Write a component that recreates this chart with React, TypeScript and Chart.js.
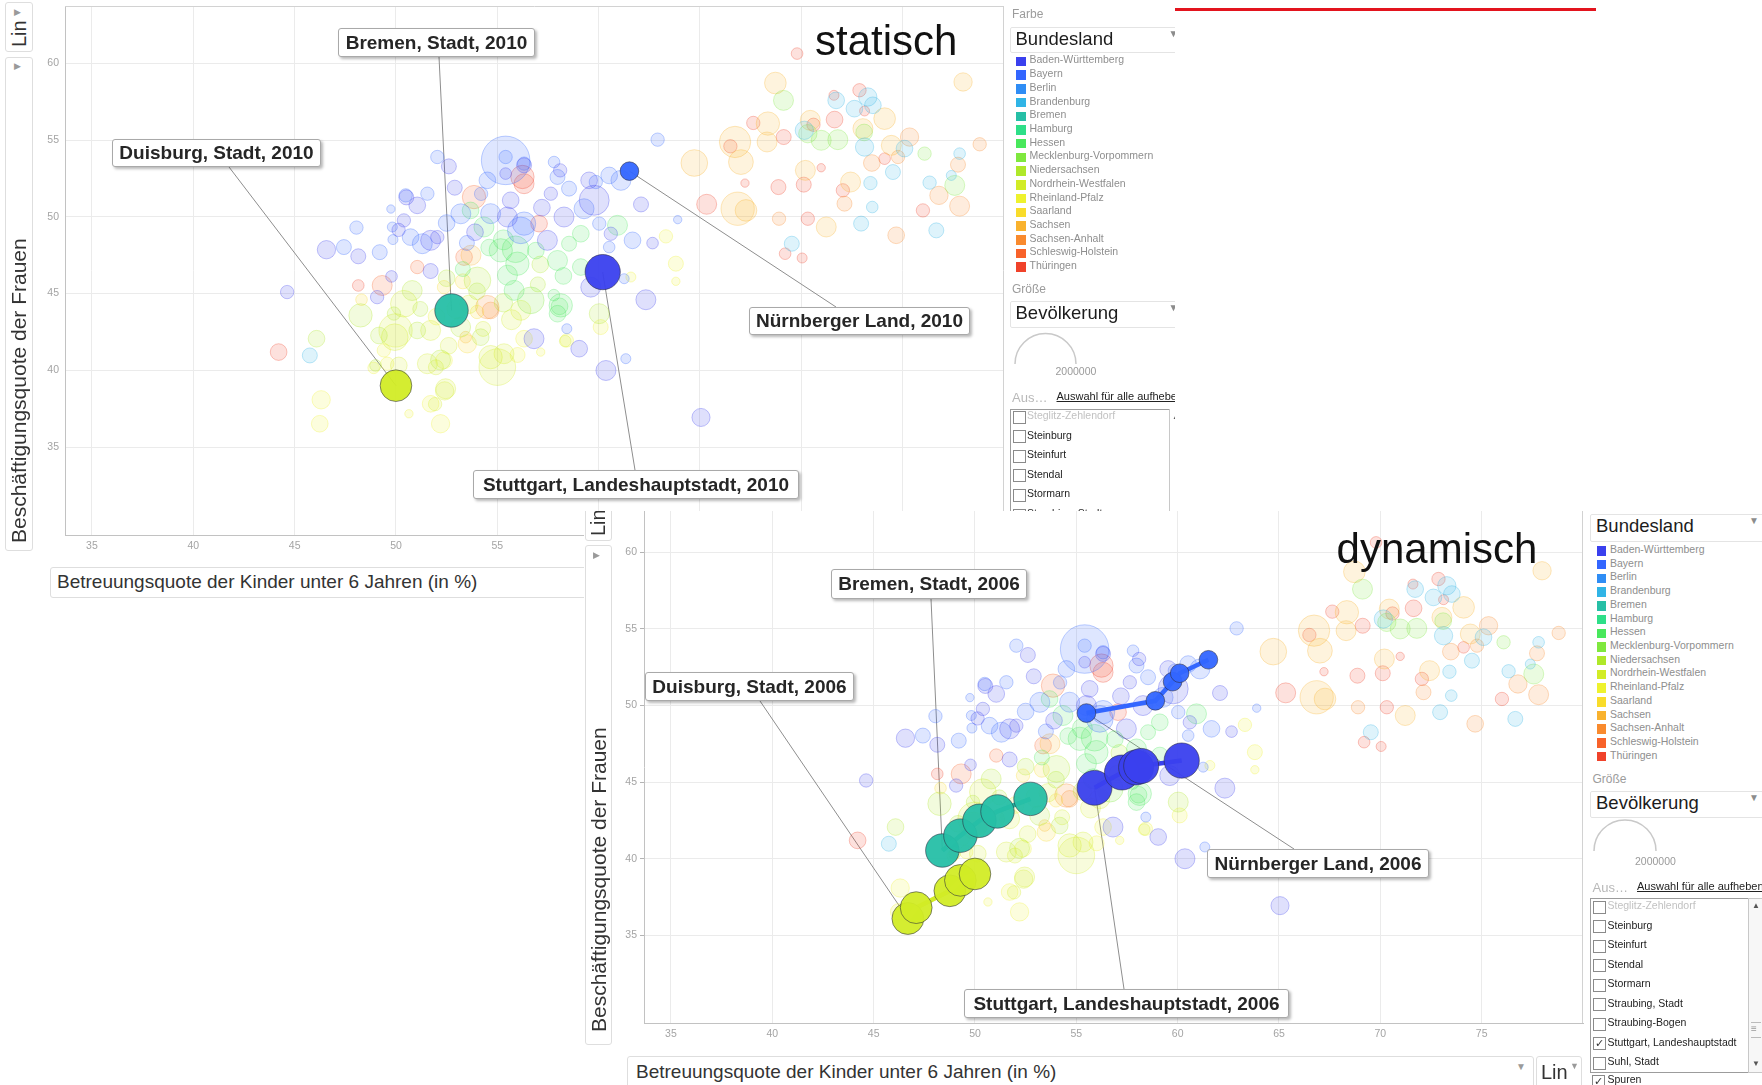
import React, { useEffect, useRef } from 'react';
import { Chart, registerables } from 'chart.js';

Chart.register(...registerables);

const FONT = '"Liberation Sans", Arial, Helvetica, sans-serif';
Chart.defaults.font.family = FONT;

// ---------- axes ----------
const xMin = 33.67;
const xMax = 80.0;
const yMin = 29.27;
const yMaxOben = 63.74;
const yMaxUnten = 62.69;
const xTicks = [35, 40, 45, 50, 55, 60, 65, 70, 75];
const yTicks = [35, 40, 45, 50, 55, 60];
const titelX = 'Betreuungsquote der Kinder unter 6 Jahren (in %)';
const titelY = 'Beschäftigungsquote der Frauen';

const bundeslaender = [
  'Baden-Württemberg', 'Bayern', 'Berlin', 'Brandenburg', 'Bremen', 'Hamburg', 'Hessen',
  'Mecklenburg-Vorpommern', 'Niedersachsen', 'Nordrhein-Westfalen', 'Rheinland-Pfalz',
  'Saarland', 'Sachsen', 'Sachsen-Anhalt', 'Schleswig-Holstein', 'Thüringen',
];
const landFarben = [
  '#3a40ee', '#3366ff', '#2f8df5', '#30b4e6', '#26bfa6', '#2edf88', '#48e85c',
  '#7fe83e', '#afe82a', '#d2ec26', '#eef22e', '#f9dc2a', '#f9b22e', '#f98a2e',
  '#f8622a', '#f0422a',
];

// ---------- background districts: [Betreuungsquote, Beschäftigungsquote, Bevölkerung (Tsd.)] ----------
const kreiseBW = [
  [44.63, 45.10, 87], [46.57, 47.86, 164], [48.14, 47.43, 110], [49.07, 44.77, 87],
  [49.78, 46.12, 66], [51.05, 50.75, 136], [51.71, 48.47, 195], [50.39, 49.77, 87],
  [52.04, 48.68, 87], [51.71, 46.47, 110], [52.61, 53.29, 110], [53.90, 49.00, 136],
  [52.90, 51.90, 110], [55.41, 52.82, 66], [55.66, 51.08, 136], [55.50, 49.99, 195],
  [56.32, 53.36, 110], [58.10, 53.03, 87], [57.64, 51.51, 87], [59.53, 52.38, 136],
  [59.78, 51.08, 439], [62.09, 50.81, 110], [62.66, 48.29, 66], [60.60, 48.90, 87],
  [62.33, 44.60, 195], [59.61, 45.42, 195], [59.04, 41.41, 136], [56.81, 42.06, 195],
  [60.36, 39.99, 195], [65.05, 36.93, 160], [58.29, 49.99, 195], [57.20, 50.60, 136],
  [57.47, 48.47, 195], [50.13, 49.15, 87], [50.51, 51.27, 110],
];
const kreiseBayern = [
  [47.43, 48.03, 110], [48.05, 49.30, 87], [49.20, 47.70, 110], [49.82, 49.34, 49],
  [50.48, 51.40, 87], [51.55, 51.51, 87], [52.04, 53.90, 87], [50.72, 48.68, 136],
  [51.30, 48.25, 195], [54.51, 52.38, 136], [55.41, 53.68, 1150], [55.41, 53.90, 87],
  [56.16, 49.12, 347], [56.32, 53.47, 87], [57.80, 53.57, 66], [57.97, 52.60, 110],
  [58.54, 51.84, 110], [59.86, 52.27, 87], [60.52, 52.70, 136], [61.10, 52.38, 195],
  [62.91, 55.03, 87], [63.90, 49.82, 34], [61.67, 48.47, 136], [60.52, 48.03, 66],
  [59.28, 50.53, 195], [60.03, 49.56, 87], [61.26, 45.97, 49], [58.43, 42.71, 49],
  [61.34, 40.76, 49], [56.32, 49.56, 266], [54.67, 50.21, 195], [53.20, 50.20, 195],
  [54.20, 51.50, 87], [53.50, 48.30, 110], [49.75, 50.51, 34], [49.85, 48.52, 49],
  [52.50, 49.60, 136],
];
const kreiseBrandenburg = [
  [45.75, 40.97, 110], [71.72, 57.59, 136], [73.28, 57.81, 164], [73.53, 57.27, 136],
  [72.62, 57.05, 136], [70.15, 55.64, 164], [73.12, 54.55, 164], [74.52, 52.92, 110],
  [75.09, 54.45, 136], [77.81, 54.12, 66], [77.40, 52.70, 49], [76.33, 52.23, 87],
  [73.50, 50.64, 66], [73.41, 52.20, 87], [72.95, 49.56, 110], [76.66, 49.12, 110],
  [69.53, 48.25, 110],
];
const kreiseHessen = [
  [55.17, 47.82, 266], [54.34, 49.34, 195], [53.68, 50.42, 136], [55.99, 46.95, 266],
  [55.83, 45.21, 195], [58.13, 44.23, 266], [57.97, 43.69, 136], [59.12, 46.73, 136],
  [59.12, 48.90, 136], [57.97, 47.16, 195], [55.90, 47.89, 347], [53.30, 46.60, 110],
  [60.93, 49.45, 195], [58.26, 46.15, 136], [58.07, 44.17, 136], [58.54, 48.25, 110],
  [55.30, 48.50, 195], [54.60, 48.00, 136], [57.79, 44.90, 66], [55.50, 46.20, 195],
  [56.90, 47.80, 136],
];
const kreiseMV = [
  [56.65, 44.56, 347], [69.12, 57.59, 195], [70.98, 54.99, 195], [71.80, 55.03, 195],
  [70.32, 55.42, 164], [76.08, 54.12, 87], [77.57, 52.05, 195], [73.10, 55.50, 136],
];
const kreiseNiedersachsen = [
  [46.08, 42.06, 136], [48.25, 43.58, 266], [49.16, 42.27, 136], [50.80, 45.20, 195],
  [53.19, 42.82, 195], [54.02, 45.86, 347], [51.05, 42.60, 136], [52.20, 40.67, 195],
  [60.03, 43.69, 195], [54.00, 45.15, 136], [57.12, 46.90, 136], [51.20, 44.00, 110],
  [52.50, 46.00, 136], [49.90, 43.70, 87], [57.00, 45.60, 110], [48.99, 40.32, 66],
  [54.18, 42.16, 136], [55.30, 44.40, 164],
];
const kreiseNRW = [
  [49.98, 42.60, 542], [50.39, 44.34, 347], [55.00, 40.21, 656], [54.67, 40.86, 266],
  [51.55, 40.43, 195], [50.14, 40.32, 136], [52.40, 38.66, 164], [51.93, 37.80, 87],
  [52.45, 38.80, 195], [56.16, 43.91, 195], [53.60, 44.30, 164], [55.70, 43.30, 195],
  [54.30, 42.70, 110], [52.60, 41.60, 136], [51.97, 40.20, 110], [58.35, 41.90, 66],
  [49.94, 42.16, 347], [51.71, 42.60, 195], [55.33, 41.08, 195], [53.00, 44.00, 195],
];
const kreiseRLP = [
  [46.31, 38.08, 164], [46.24, 36.52, 136], [51.71, 37.82, 136], [52.20, 36.52, 164],
  [50.64, 37.17, 34], [48.90, 40.16, 66], [49.40, 41.30, 87], [58.43, 41.95, 87],
  [60.10, 42.82, 110], [63.32, 48.73, 87], [63.81, 46.95, 110], [63.81, 45.80, 34],
  [61.59, 46.08, 49], [56.32, 42.06, 136], [57.14, 41.19, 34], [52.37, 40.65, 136],
  [49.57, 40.43, 87], [52.00, 43.50, 136], [56.00, 41.00, 110],
];
const kreiseSaarland = [
  [53.52, 41.73, 164], [53.30, 45.80, 110], [54.00, 43.80, 87], [48.30, 44.60, 66],
  [52.37, 45.42, 87],
];
const kreiseSachsen = [
  [68.72, 58.72, 229], [77.98, 58.79, 164], [74.11, 56.40, 229], [70.44, 56.29, 195],
  [73.04, 55.75, 195], [74.44, 54.66, 195], [66.86, 50.53, 542], [66.73, 54.88, 480],
  [67.02, 53.57, 300], [68.35, 56.08, 266], [64.72, 53.51, 347], [70.20, 53.03, 195],
  [72.43, 52.27, 195], [71.23, 49.34, 195], [67.27, 50.42, 229], [68.31, 54.88, 195],
  [53.70, 47.50, 195], [53.44, 42.16, 66],
];
const kreiseSachsenAnhalt = [
  [76.79, 51.40, 164], [77.81, 50.70, 195], [74.68, 48.80, 136], [73.48, 53.51, 136],
  [78.80, 54.73, 87], [77.73, 53.40, 110], [72.13, 50.86, 110], [75.34, 55.20, 164],
  [74.77, 53.90, 87], [68.90, 49.88, 87], [54.51, 44.12, 266], [54.67, 43.90, 136],
];
const kreiseSH = [
  [49.32, 45.53, 195], [53.36, 47.38, 136], [51.05, 46.73, 87], [53.85, 51.29, 266],
];
const kreiseThueringen = [
  [44.21, 41.19, 136], [48.14, 45.53, 66], [56.32, 52.16, 195], [56.24, 52.60, 266],
  [57.06, 49.56, 136], [69.79, 60.64, 66], [72.87, 58.25, 87], [71.64, 56.34, 136],
  [71.61, 57.92, 49], [70.60, 56.00, 87], [74.11, 53.79, 66], [76.00, 50.42, 87],
  [72.05, 51.73, 87], [70.32, 49.88, 87], [70.98, 53.20, 34], [70.12, 52.10, 110],
  [68.87, 51.94, 110], [69.20, 47.60, 66], [70.04, 47.32, 49], [67.22, 52.20, 34],
  [66.50, 54.60, 87], [69.13, 55.20, 110], [67.63, 56.12, 87], [65.33, 50.82, 195],
  [73.12, 56.90, 49],
];

const hintergrund: [number, number[][]][] = [
  [0, kreiseBW], [1, kreiseBayern], [3, kreiseBrandenburg], [6, kreiseHessen], [7, kreiseMV],
  [8, kreiseNiedersachsen], [9, kreiseNRW], [10, kreiseRLP], [11, kreiseSaarland],
  [12, kreiseSachsen], [13, kreiseSachsenAnhalt], [14, kreiseSH], [15, kreiseThueringen],
];

// ---------- highlighted districts 2006–2010 ----------
const jahre = [2006, 2007, 2008, 2009, 2010];
const duisburgX = [46.69, 47.10, 48.76, 49.28, 50.00];
const duisburgY = [36.09, 36.80, 37.90, 38.58, 39.00];
const duisburgBev = [496, 494, 492, 491, 489];
const bremenX = [48.39, 49.28, 50.22, 51.11, 52.74];
const bremenY = [40.53, 41.50, 42.47, 43.08, 43.90];
const bremenBev = [548, 548, 547, 547, 547];
const stuttgartX = [55.90, 57.25, 57.95, 58.20, 60.20];
const stuttgartY = [44.62, 45.62, 45.95, 46.05, 46.40];
const stuttgartBev = [594, 597, 600, 601, 606];
const nuernbergX = [55.50, 58.90, 59.75, 60.10, 61.52];
const nuernbergY = [49.50, 50.30, 51.55, 52.10, 52.98];
const nuernbergBev = [171, 170, 170, 169, 169];

const staedte = [
  { name: 'Duisburg, Stadt', land: 9, x: duisburgX, y: duisburgY, bev: duisburgBev },
  { name: 'Bremen, Stadt', land: 4, x: bremenX, y: bremenY, bev: bremenBev },
  { name: 'Stuttgart, Landeshauptstadt', land: 0, x: stuttgartX, y: stuttgartY, bev: stuttgartBev },
  { name: 'Nürnberger Land', land: 1, x: nuernbergX, y: nuernbergY, bev: nuernbergBev },
];

const kreisListeOben = ['Steglitz-Zehlendorf', 'Steinburg', 'Steinfurt', 'Stendal', 'Stormarn', 'Straubing, Stadt'];
const kreisListeUnten = [
  'Steglitz-Zehlendorf', 'Steinburg', 'Steinfurt', 'Stendal', 'Stormarn', 'Straubing, Stadt',
  'Straubing-Bogen', 'Stuttgart, Landeshauptstadt', 'Suhl, Stadt',
];

// ---------- layout of callouts (page coordinates) ----------
type Callout = { stadt: number; box: number[]; anchor: number[] };
const calloutsOben: Callout[] = [
  { stadt: 1, box: [338, 28, 197, 29], anchor: [439, 57] },
  { stadt: 0, box: [112, 139, 209, 28], anchor: [229, 167] },
  { stadt: 3, box: [749, 307, 221, 28], anchor: [836, 307] },
  { stadt: 2, box: [473, 470, 326, 29], anchor: [635, 470] },
];
const calloutsUnten: Callout[] = [
  { stadt: 1, box: [831, 569, 196, 30], anchor: [931, 599] },
  { stadt: 0, box: [645, 672, 209, 29], anchor: [760, 701] },
  { stadt: 3, box: [1207, 849, 222, 29], anchor: [1294, 849] },
  { stadt: 2, box: [964, 989, 325, 29], anchor: [1124, 989] },
];

function rgba(hex: string, a: number) {
  const n = parseInt(hex.slice(1), 16);
  return `rgba(${(n >> 16) & 255},${(n >> 8) & 255},${n & 255},${a})`;
}
const radius = (bevK: number) => 32 * Math.sqrt(bevK / 2000);

type ChartProps = {
  ox: number; oy: number; left: number; top: number; width: number; height: number;
  yAxisWidth: number; xAxisHeight: number; padTop: number; padRight: number; yMax: number;
  dynamic: boolean; callouts: Callout[]; jahrIdx: number; topBorder: boolean; yTickLen: number;
};

const noPad = (s: any) => {
  s.paddingTop = 0;
  s.paddingBottom = 0;
  s.paddingLeft = 0;
  s.paddingRight = 0;
};

function BubbleChart(p: ChartProps) {
  const ref = useRef<HTMLCanvasElement>(null);
  useEffect(() => {
    const canvas = ref.current;
    if (!canvas) return;
    const datasets: any[] = [];
    hintergrund.forEach(([land, punkte]) => {
      const c = landFarben[land];
      datasets.push({
        type: 'bubble',
        label: bundeslaender[land],
        data: punkte.map(([x, y, b]) => ({ x, y, r: radius(b) })),
        backgroundColor: rgba(c, 0.16),
        borderColor: rgba(c, 0.3),
        borderWidth: 1,
        order: 3,
      });
    });
    staedte.forEach((s) => {
      const c = landFarben[s.land];
      const idx = p.dynamic ? s.x.map((_, i) => i) : [p.jahrIdx];
      if (p.dynamic) {
        datasets.push({
          type: 'line',
          label: s.name + ' Spur',
          data: idx.map((i) => ({ x: s.x[i], y: s.y[i] })),
          borderColor: c,
          borderWidth: 4.5,
          pointRadius: 0,
          fill: false,
          tension: 0,
          order: 1,
        });
      }
      datasets.push({
        type: 'bubble',
        label: s.name,
        data: idx.map((i) => ({ x: s.x[i], y: s.y[i], r: radius(s.bev[i]) })),
        backgroundColor: rgba(c, 0.95),
        borderColor: 'rgba(40,40,60,0.55)',
        borderWidth: 1,
        order: 0,
      });
    });

    const overlay = {
      id: 'overlay',
      beforeDatasetsDraw(chart: any) {
        const { ctx, chartArea: a, scales } = chart;
        ctx.save();
        ctx.strokeStyle = '#d2d2d2';
        ctx.lineWidth = 1;
        ctx.beginPath();
        ctx.moveTo(Math.round(a.right) - 0.5, a.top);
        ctx.lineTo(Math.round(a.right) - 0.5, a.bottom);
        if (p.topBorder) {
          ctx.moveTo(a.left, Math.round(a.top) + 0.5);
          ctx.lineTo(a.right, Math.round(a.top) + 0.5);
        }
        ctx.stroke();
        ctx.strokeStyle = '#8e8e8e';
        p.callouts.forEach((c) => {
          const s = staedte[c.stadt];
          const px = scales.x.getPixelForValue(s.x[p.jahrIdx]);
          const py = scales.y.getPixelForValue(s.y[p.jahrIdx]);
          ctx.beginPath();
          ctx.moveTo(c.anchor[0] - p.ox, c.anchor[1] - p.oy);
          ctx.lineTo(px, py);
          ctx.stroke();
        });
        ctx.restore();
      },
    };

    const tickFont = { family: FONT, size: 10.5 };
    const chart = new Chart(canvas, {
      type: 'bubble',
      data: { datasets },
      options: {
        responsive: false,
        maintainAspectRatio: false,
        animation: false,
        devicePixelRatio: 1,
        events: [],
        layout: { autoPadding: false, padding: { left: 0, right: p.padRight, top: p.padTop, bottom: 0 } },
        plugins: { legend: { display: false }, tooltip: { enabled: false } },
        scales: {
          x: {
            type: 'linear',
            position: 'bottom',
            min: xMin,
            max: xMax,
            afterBuildTicks: (s: any) => { s.ticks = xTicks.map((v) => ({ value: v })); },
            afterFit: (s: any) => { s.height = p.xAxisHeight; noPad(s); },
            grid: { color: '#ebebeb', lineWidth: 1, drawTicks: false },
            border: { display: true, color: '#c2c2c2', width: 1 },
            ticks: { color: '#a4a4a4', font: tickFont, padding: 5, autoSkip: false, maxRotation: 0 },
          },
          y: {
            type: 'linear',
            position: 'left',
            min: yMin,
            max: p.yMax,
            afterBuildTicks: (s: any) => { s.ticks = yTicks.map((v) => ({ value: v })); },
            afterFit: (s: any) => { s.width = p.yAxisWidth; noPad(s); },
            grid: {
              color: '#ebebeb', lineWidth: 1, drawTicks: p.yTickLen > 0,
              tickLength: p.yTickLen, tickColor: '#b4b4b4',
            },
            border: { display: true, color: '#c2c2c2', width: 1 },
            ticks: { color: '#a4a4a4', font: tickFont, padding: p.yTickLen > 0 ? 3 : 6, autoSkip: false },
          },
        },
      } as any,
      plugins: [overlay],
    } as any);
    return () => chart.destroy();
  }, []);
  return (
    <canvas
      ref={ref}
      width={p.width}
      height={p.height}
      style={{ position: 'absolute', left: p.left, top: p.top, width: p.width, height: p.height }}
    />
  );
}

function LabelBox({ c, ox, oy, jahrIdx }: { c: Callout; ox: number; oy: number; jahrIdx: number }) {
  const [x, y, w, h] = c.box;
  return (
    <div
      style={{
        position: 'absolute', left: x - ox, top: y - oy, width: w, height: h, boxSizing: 'border-box',
        border: '1px solid #a9a9a9', borderRadius: 3, background: '#fff',
        boxShadow: '2px 2px 3px rgba(0,0,0,0.28)', font: `bold 19px ${FONT}`, color: '#262626',
        lineHeight: `${h - 2}px`, textAlign: 'center', whiteSpace: 'nowrap',
      }}
    >
      {staedte[c.stadt].name + ', ' + jahre[jahrIdx]}
    </div>
  );
}

function VText({ x, bottom, size, text, color }: { x: number; bottom: number; size: number; text: string; color: string }) {
  const lh = Math.round(size * 1.2);
  return (
    <div
      style={{
        position: 'absolute', left: x - lh / 2, top: bottom, transform: 'rotate(-90deg)',
        transformOrigin: '0 0', font: `${size}px ${FONT}`, lineHeight: `${lh}px`,
        whiteSpace: 'nowrap', color,
      }}
    >
      {text}
    </div>
  );
}

const boxStyle = (l: number, t: number, w: number, h: number): React.CSSProperties => ({
  position: 'absolute', left: l, top: t, width: w, height: h, boxSizing: 'border-box',
  border: '1px solid #dedede', borderRadius: 3, background: '#fff',
});

function Tri({ x, y, ch }: { x: number; y: number; ch: string }) {
  return <div style={{ position: 'absolute', left: x, top: y, font: `9px ${FONT}`, color: '#9a9a9a', lineHeight: '10px' }}>{ch}</div>;
}

type PanelCfg = {
  px: number; oy: number; left: number; width: number; height: number; farbeY: number | null;
  bund: number[]; legY0: number; legStep: number; groY: number; bev: number[]; arc: number[];
  zahl: number[]; ausY: number; list: number[]; listY0: number; listStep: number;
  items: string[]; checked: number; scroll: boolean; spurenY: number | null;
};

function Panel({ c }: { c: PanelCfg }) {
  const X = (v: number) => v - c.px;
  const Y = (v: number) => v - c.oy;
  const txt = (l: number, cy: number, size: number, color: string, s: string, extra: React.CSSProperties = {}) => (
    <div style={{ position: 'absolute', left: l, top: cy - 8, height: 16, lineHeight: '16px', font: `${size}px ${FONT}`, color, whiteSpace: 'nowrap', ...extra }}>{s}</div>
  );
  const dropdown = (yy: number[], label: string) => (
    <div style={{ ...boxStyle(0, Y(yy[0]), 176, yy[1] - yy[0]), borderColor: '#e4e4e4', borderRadius: 2 }}>
      <div style={{ position: 'absolute', left: 5, top: 0, lineHeight: `${yy[1] - yy[0] - 2}px`, font: `18.5px ${FONT}`, color: '#1c1c1c' }}>{label}</div>
      <div style={{ position: 'absolute', left: 158, top: 0, lineHeight: `${yy[1] - yy[0] - 4}px`, font: `10px ${FONT}`, color: '#8c8c8c' }}>▼</div>
    </div>
  );
  const [acx, acy, ar] = c.arc;
  return (
    <div style={{ position: 'absolute', left: c.left, top: 0, width: c.width, height: c.height, overflow: 'hidden' }}>
      {c.farbeY !== null && txt(2.5, Y(c.farbeY), 12, '#9c9c9c', 'Farbe')}
      {dropdown(c.bund, 'Bundesland')}
      {bundeslaender.map((n, i) => {
        const cy = Y(c.legY0 + i * c.legStep);
        return (
          <React.Fragment key={n}>
            <div style={{ position: 'absolute', left: 6.5, top: cy - 4.75, width: 9.5, height: 9.5, background: landFarben[i] }} />
            {txt(20, cy, 10.5, '#8e8e8e', n)}
          </React.Fragment>
        );
      })}
      {txt(2.5, Y(c.groY), 12, '#9c9c9c', 'Größe')}
      {dropdown(c.bev, 'Bevölkerung')}
      <svg style={{ position: 'absolute', left: 0, top: 0 }} width={c.width} height={c.height}>
        <path d={`M ${X(acx - ar)} ${Y(acy)} A ${ar} ${ar} 0 0 1 ${X(acx + ar)} ${Y(acy)}`} stroke="#c9c9c9" strokeWidth={1.5} fill="none" />
      </svg>
      {txt(X(c.zahl[0]) - 20.5, Y(c.zahl[1]), 10.5, '#9a9a9a', '2000000')}
      {txt(2.5, Y(c.ausY), 13, '#b8b8b8', 'Aus…')}
      {txt(47, Y(c.ausY), 11, '#222', 'Auswahl für alle aufheben', { textDecoration: 'underline' })}
      <div style={{ position: 'absolute', left: 0, top: Y(c.list[0]), width: X(c.list[2]) + 1, height: c.list[1] - c.list[0], boxSizing: 'border-box', border: '1px solid #9c9c9c', background: '#fff' }} />
      {c.scroll && (
        <div style={{ position: 'absolute', left: X(c.list[2]), top: Y(c.list[0]), width: 16, height: c.list[1] - c.list[0], boxSizing: 'border-box', border: '1px solid #c8c8c8', background: '#f7f7f7' }}>
          <div style={{ position: 'absolute', left: 3, top: 2, font: `8px ${FONT}`, color: '#555' }}>▲</div>
          <div style={{ position: 'absolute', left: 2, top: 123, width: 10, height: 14, borderTop: '1px solid #bbb', borderBottom: '1px solid #bbb', font: `10px ${FONT}`, color: '#999', lineHeight: '12px' }}>≡</div>
          <div style={{ position: 'absolute', left: 3, bottom: 4, font: `8px ${FONT}`, color: '#555' }}>▼</div>
        </div>
      )}
      {!c.scroll && (
        <div style={{ position: 'absolute', left: X(c.list[2]), top: Y(c.list[0]), width: 10, height: c.list[1] - c.list[0], borderLeft: '1px solid #c8c8c8' }}>
          <div style={{ position: 'absolute', left: 2, top: 3, font: `8px ${FONT}`, color: '#555' }}>▲</div>
        </div>
      )}
      {c.items.map((s, i) => {
        const cy = Y(c.listY0 + i * c.listStep);
        return (
          <React.Fragment key={s}>
            <div style={{ position: 'absolute', left: 3, top: cy - 6.5, width: 13, height: 13, boxSizing: 'border-box', border: '1px solid #8a8a8a', background: '#fff', font: `11px ${FONT}`, lineHeight: '11px', textAlign: 'center', color: '#333' }}>{i === c.checked ? '✓' : ''}</div>
            {txt(17.5, cy, 10.5, i === 0 ? '#c2c2c2' : '#222', s)}
          </React.Fragment>
        );
      })}
      {c.spurenY !== null && (
        <>
          <div style={{ position: 'absolute', left: 2, top: Y(c.spurenY) - 6.5, width: 13, height: 13, boxSizing: 'border-box', border: '1px solid #8a8a8a', background: '#fff', font: `11px ${FONT}`, lineHeight: '11px', textAlign: 'center', color: '#333' }}>✓</div>
          {txt(17.5, Y(c.spurenY), 10.5, '#222', 'Spuren')}
        </>
      )}
    </div>
  );
}

const panelOben: PanelCfg = {
  px: 1009.5, oy: 0, left: 1009.5, width: 165.5, height: 511, farbeY: 15,
  bund: [27, 53], legY0: 61.4, legStep: 13.72, groY: 290, bev: [301, 328], arc: [1045, 364, 30.5],
  zahl: [1076, 373], ausY: 398, list: [409, 620, 1169], listY0: 417, listStep: 19.6,
  items: kreisListeOben, checked: -1, scroll: false, spurenY: null,
};
const panelUnten: PanelCfg = {
  px: 1590, oy: 511, left: 1590 - 584, width: 172, height: 574, farbeY: null,
  bund: [514, 542], legY0: 551, legStep: 13.71, groY: 780, bev: [791, 818], arc: [1625, 851, 31],
  zahl: [1655.5, 863], ausY: 888, list: [898, 1073, 1748], listY0: 907, listStep: 19.55,
  items: kreisListeUnten, checked: 7, scroll: true, spurenY: 1081,
};

export default function App() {
  const OX = 584;
  const OY = 511;
  return (
    <div style={{ position: 'absolute', left: 0, top: 0, width: 1762, height: 1085, overflow: 'hidden', background: '#fff', fontFamily: FONT }}>
      {/* ---------- statisch ---------- */}
      <BubbleChart
        ox={0} oy={0} left={0} top={0} width={1010} height={560}
        yAxisWidth={65} xAxisHeight={25} padTop={6} padRight={6} yMax={yMaxOben}
        dynamic={false} callouts={calloutsOben} jahrIdx={4} topBorder={true} yTickLen={0}
      />
      <div style={boxStyle(5, 2, 28, 50)} />
      <Tri x={14} y={7} ch="▶" />
      <VText x={18.5} bottom={47} size={20} text="Lin" color="#333" />
      <div style={boxStyle(5, 57, 28, 494)} />
      <Tri x={14} y={61} ch="▶" />
      <VText x={18.5} bottom={543} size={21} text={titelY} color="#333" />
      <div style={boxStyle(50, 567, 600, 31)}>
        <div style={{ position: 'absolute', left: 6, top: 3, lineHeight: '29px', font: `19px ${FONT}`, color: '#333', whiteSpace: 'nowrap' }}>{titelX}</div>
      </div>
      {calloutsOben.map((c, i) => <LabelBox key={i} c={c} ox={0} oy={0} jahrIdx={4} />)}
      <div style={{ position: 'absolute', left: 815, top: 19.5, font: `42px ${FONT}`, lineHeight: '42px', color: '#111', whiteSpace: 'nowrap' }}>statisch</div>
      <Panel c={panelOben} />
      <div style={{ position: 'absolute', left: 1175, top: 8, width: 421, height: 3, background: '#e3141e' }} />

      {/* ---------- dynamisch ---------- */}
      <div style={{ position: 'absolute', left: OX, top: OY, width: 1762 - OX, height: 1085 - OY, background: '#fff', overflow: 'hidden' }}>
        <BubbleChart
          ox={OX} oy={OY} left={0} top={0} width={1005} height={560}
          yAxisWidth={60} xAxisHeight={48} padTop={0} padRight={6} yMax={yMaxUnten}
          dynamic={true} callouts={calloutsUnten} jahrIdx={0} topBorder={false} yTickLen={4}
        />
        <div style={boxStyle(1, -22, 27, 52)} />
        <VText x={14} bottom={25} size={20} text="Lin" color="#333" />
        <div style={boxStyle(1, 34, 27, 500)} />
        <Tri x={9} y={39} ch="▶" />
        <VText x={14} bottom={521} size={21} text={titelY} color="#333" />
        <div style={boxStyle(43, 545, 907, 34)}>
          <div style={{ position: 'absolute', left: 8, top: 4, lineHeight: '29px', font: `19px ${FONT}`, color: '#333', whiteSpace: 'nowrap' }}>{titelX}</div>
          <div style={{ position: 'absolute', left: 888, top: 4, lineHeight: '29px', font: `10px ${FONT}`, color: '#9a9a9a' }}>▼</div>
        </div>
        <div style={boxStyle(952, 545, 46, 34)}>
          <div style={{ position: 'absolute', left: 4, top: 4, lineHeight: '29px', font: `20px ${FONT}`, color: '#333' }}>Lin</div>
          <div style={{ position: 'absolute', left: 33, top: 4, lineHeight: '27px', font: `9px ${FONT}`, color: '#9a9a9a' }}>▼</div>
        </div>
        {calloutsUnten.map((c, i) => <LabelBox key={i} c={c} ox={OX} oy={OY} jahrIdx={0} />)}
        <div style={{ position: 'absolute', left: 1336.6 - OX, top: 527.5 - OY, font: `42px ${FONT}`, lineHeight: '42px', color: '#111', whiteSpace: 'nowrap' }}>dynamisch</div>
        <Panel c={panelUnten} />
      </div>
    </div>
  );
}
